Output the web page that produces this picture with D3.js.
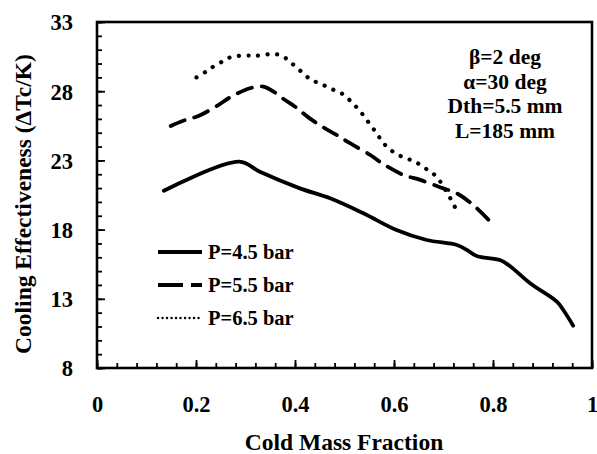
<!DOCTYPE html>
<html><head><meta charset="utf-8">
<script src="https://cdn.jsdelivr.net/npm/d3@7"></script>
<style>body{margin:0;background:#fff}text{font-family:"Liberation Serif","Times New Roman",serif;font-weight:bold;fill:#000}</style>
</head><body><svg id="c" width="597" height="454"></svg>
<script>
const xTicks=[0,0.2,0.4,0.6,0.8,1];
const yTicks=[8,13,18,23,28,33];
const seriesNames=["P=4.5 bar","P=5.5 bar","P=6.5 bar"];
const p45x=[0.135,0.2875,0.329,0.410,0.471,0.538,0.605,0.666,0.727,0.747,0.767,0.814,0.834,0.875,0.929,0.942,0.962];
const p45y=[20.81,22.91,22.18,20.98,20.26,19.18,17.97,17.25,16.89,16.53,16.09,15.80,15.37,14.12,12.79,12.19,11.06];
const p55x=[0.149,0.174,0.205,0.245,0.269,0.309,0.336,0.360,0.380,0.400,0.427,0.457,0.484,0.511,0.552,0.578,0.619,0.653,0.693,0.727,0.760,0.801];
const p55y=[25.49,25.87,26.21,27.0,27.56,28.21,28.33,27.89,27.36,26.88,26.11,25.39,24.84,24.24,23.39,22.74,21.95,21.59,21.06,20.62,19.78,18.33];
const p65x=[0.201,0.220,0.238,0.259,0.272,0.296,0.316,0.329,0.353,0.373,0.391,0.409,0.424,0.434,0.454,0.474,0.496,0.518,0.535,0.550,0.565,0.578,0.595,0.619,0.642,0.666,0.686,0.703,0.715,0.725];
const p65y=[29.00,29.41,29.84,30.25,30.49,30.57,30.57,30.57,30.69,30.57,30.09,29.53,29.05,28.80,28.50,28.16,27.80,27.08,26.40,25.68,24.96,24.28,23.70,23.22,22.91,22.36,21.82,20.91,20.19,19.49];
const notes=["β=2 deg","α=30 deg","Dth=5.5 mm","L=185 mm"];

const svg=d3.select("#c");
const L=97,R=592,T=22,B=368;
const x=d3.scaleLinear().domain([0,1]).range([L,R]);
const y=d3.scaleLinear().domain([8,33]).range([B,T]);

const xMinor=d3.range(0,1.0001,0.04);
const yMinor=d3.range(8,33.0001,1);
svg.append("g").attr("transform",`translate(0,${B})`)
 .call(d3.axisBottom(x).tickValues(xMinor).tickSize(-5).tickFormat(""))
 .call(g=>{g.select(".domain").remove();g.selectAll("line").attr("stroke","#000").attr("stroke-width",1.8);});
svg.append("g").attr("transform",`translate(${L},0)`)
 .call(d3.axisLeft(y).tickValues(yMinor).tickSize(-5).tickFormat(""))
 .call(g=>{g.select(".domain").remove();g.selectAll("line").attr("stroke","#000").attr("stroke-width",1.8);});
svg.append("g").attr("transform",`translate(0,${B})`)
 .call(d3.axisBottom(x).tickValues(xTicks).tickSize(-8).tickPadding(0).tickFormat(d=>d3.format("")(d)))
 .call(g=>{g.select(".domain").remove();g.selectAll("line").attr("stroke","#000").attr("stroke-width",1.8);
   g.selectAll("text").attr("y",44).attr("dy",0).style("font-size","22.5px");});
svg.append("g").attr("transform",`translate(${L},0)`)
 .call(d3.axisLeft(y).tickValues(yTicks).tickSize(-8).tickFormat(d=>d))
 .call(g=>{g.select(".domain").remove();g.selectAll("line").attr("stroke","#000").attr("stroke-width",1.8);
   g.selectAll("text").attr("x",-24).attr("dy","0.35em").style("font-size","22.5px");});

svg.append("rect").attr("x",L).attr("y",T).attr("width",R-L).attr("height",B-T)
 .attr("fill","none").attr("stroke","#000").attr("stroke-width",2.6);

const line=d3.line().x(d=>x(d[0])).y(d=>y(d[1])).curve(d3.curveCatmullRom.alpha(0.5));
const styles=[{w:3.8,dash:null},{w:3.8,dash:"15,10"},{w:4.2,dash:"0.1,9.5"}];
const data=[d3.zip(p45x,p45y),d3.zip(p55x,p55y),d3.zip(p65x,p65y)];
data.forEach((d,i)=>{
 svg.append("path").datum(d).attr("d",line).attr("fill","none").attr("stroke","#000")
  .attr("stroke-width",styles[i].w).attr("stroke-dasharray",styles[i].dash).attr("stroke-linecap","round").attr("stroke-linejoin","round");
});

const lg=svg.append("g");
seriesNames.forEach((n,i)=>{
 const yy=252+i*33;
 lg.append("line").attr("x1",158).attr("x2",202).attr("y1",yy).attr("y2",yy)
  .attr("stroke","#000").attr("stroke-width",i==2?2.4:3.8)
  .attr("stroke-dasharray",i==1?"25,8":(i==2?"0.1,4.4":null)).attr("stroke-linecap",i==2?"round":"butt");
 lg.append("text").attr("x",208).attr("y",yy+7).style("font-size","20.5px").text(n);
});

notes.forEach((t,i)=>{
 svg.append("text").attr("x",505).attr("y",64+i*24.5).attr("text-anchor","middle").style("font-size","21.5px").text(t);
});

svg.append("text").attr("x",344).attr("y",450).attr("text-anchor","middle").style("font-size","23.5px").text("Cold Mass Fraction");
svg.append("text").attr("transform","translate(31,204) rotate(-90)").attr("text-anchor","middle").style("font-size","23.5px").text("Cooling Effectiveness (ΔTc/K)");
</script></body></html>
